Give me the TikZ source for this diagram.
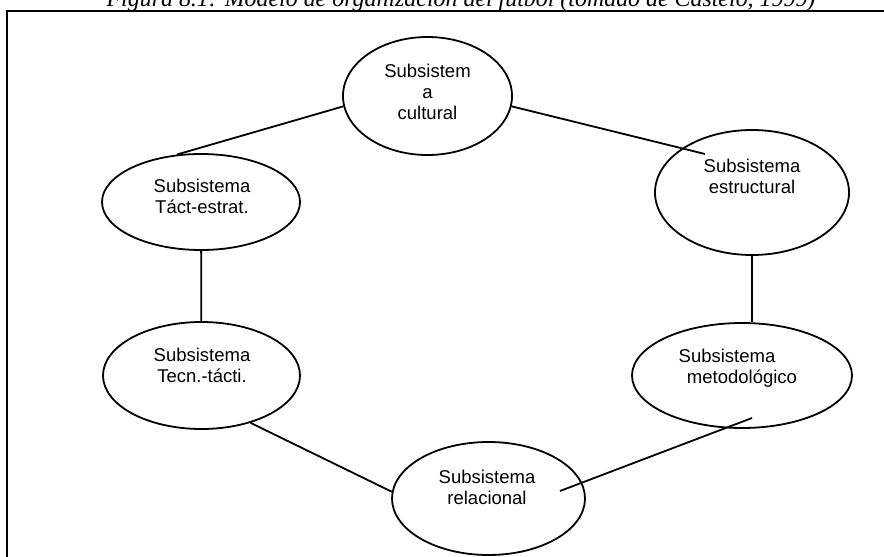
\documentclass[tikz,border=0pt]{standalone}
\usepackage{fontspec}
\setmainfont{Liberation Sans}
\newfontfamily\captionfont{Liberation Serif}
\usetikzlibrary{shapes.geometric}

\begin{document}
\begin{tikzpicture}[
  x=1pt, y=-1pt,
  subsys/.style={draw, ellipse, line width=1.8pt, inner sep=0pt},
  subtxt/.style={align=center, inner sep=0pt,
    font=\fontsize{18.5}{21}\selectfont},
  link/.style={line width=1.8pt},
]
\useasboundingbox (0,0) rectangle (884,557);

% caption, cut off by the page edge
\node[anchor=base, inner sep=0pt,
  font=\captionfont\itshape\fontsize{23.9}{28}\selectfont]
  (caption) at (461,6) {Figura 8.1: Modelo de organización del fútbol (tomado de Castelo, 1999)};

% frame
\draw[line width=1.8pt] (7,570) -- (7,11) -- (900,11);

% the six subsystems
\node[subsys, minimum width=169, minimum height=118] (cult)  at (427.5,96)  {};
\node[subsys, minimum width=194, minimum height=125] (estr)  at (752,192.5) {};
\node[subsys, minimum width=198, minimum height=96]  (tact)  at (201,202)   {};
\node[subsys, minimum width=197, minimum height=107] (tecn)  at (201.5,375.5) {};
\node[subsys, minimum width=220, minimum height=105] (metod) at (742,375.5) {};
\node[subsys, minimum width=193, minimum height=113] (relac) at (488.5,498.5) {};

\node[subtxt] (cult-t)  at (427.5,91.5) {Subsistem\\a\\cultural};
\node[subtxt] (estr-t)  at (752,176.7)  {Subsistema\\estructural};
\node[subtxt] (tact-t)  at (202,196)    {Subsistema\\Táct-estrat.};
\node[subtxt] (tecn-t)  at (202,365.5)  {Subsistema\\Tecn.-tácti.};
\node[subtxt] (metod-t) at (742,368.5)  {Subsistema\rule{30pt}{0pt}\\metodológico};
\node[subtxt] (relac-t) at (487,487)    {Subsistema\\relacional};

% links (some run into the ellipses)
\coordinate (estr-end)  at (705,154);
\coordinate (metod-end) at (752,418);
\coordinate (relac-end) at (560,491);

\draw[link] (cult.187) -- (tact.117);
\draw[link] (cult.-7) -- (estr-end);
\draw[link] (estr.south) -- (estr.south |- metod.north);
\draw[link] (metod-end) -- (relac-end);
\draw[link] (tact) -- (tecn);
\draw[link] (tecn.-44) -- (relac.176);

\end{tikzpicture}
\end{document}
